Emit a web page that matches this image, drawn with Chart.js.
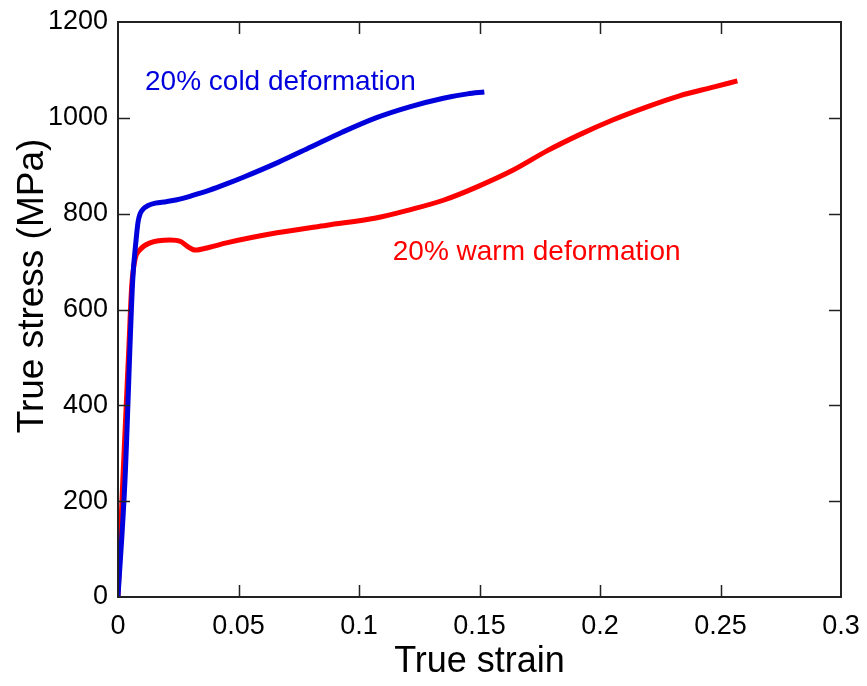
<!DOCTYPE html>
<html>
<head>
<meta charset="utf-8">
<script src="https://cdn.jsdelivr.net/npm/chart.js@4/dist/chart.umd.min.js"></script>
<style>
  html, body { margin:0; padding:0; background:#fff; }
  #wrap { width:867px; height:686px; }
</style>
</head>
<body>
<div id="wrap"><canvas id="stressChart" width="867" height="686"></canvas></div>
<script>
// ===== Data =====
const coldStrain = [0, 0.0029, 0.0061, 0.0075, 0.0083, 0.0092, 0.0105, 0.0125, 0.0155, 0.02, 0.0245, 0.031, 0.038, 0.045, 0.052, 0.066, 0.080, 0.093, 0.107, 0.121, 0.135, 0.145, 0.152];
const coldStress = [0, 244, 661, 745, 782, 800, 810, 817, 822, 825, 829, 838, 849, 862, 876, 906, 939, 970, 1000, 1023, 1041, 1050, 1054];

const warmStrain = [0, 0.002, 0.0045, 0.0057, 0.007, 0.009, 0.0133, 0.0216, 0.026, 0.029, 0.032, 0.038, 0.045, 0.066, 0.0867, 0.107, 0.121, 0.135, 0.149, 0.164, 0.178, 0.192, 0.205, 0.2195, 0.233, 0.247, 0.257];
const warmStress = [0, 244, 520, 650, 703, 724, 739, 745, 742, 731, 724, 730, 739, 760, 776, 791, 808, 828, 856, 891, 931, 966, 995, 1023, 1046, 1064, 1077];

const xTicks = [0, 0.05, 0.1, 0.15, 0.2, 0.25, 0.3];
const yTicks = [0, 200, 400, 600, 800, 1000, 1200];

// annotation labels, placed in data units
const labels = [
  { text: "20% cold deformation", x: 0.0112, y: 1058, color: "#0000dd" },
  { text: "20% warm deformation", x: 0.114, y: 703, color: "#ff0000" }
];

const FONT = "'Liberation Sans', Arial, sans-serif";

function toPoints(xs, ys) {
  return xs.map((x, i) => ({ x: x, y: ys[i] }));
}

// ===== Frame with inward ticks on all sides, labels, y title =====
const framePlugin = {
  id: "frame",
  afterDatasetsDraw(chart) {
    const { ctx, chartArea: a, scales } = chart;
    const len = 12;
    ctx.save();
    ctx.strokeStyle = "#222";
    ctx.lineWidth = 1.5;
    ctx.beginPath();
    xTicks.forEach(v => {
      const px = Math.round(scales.x.getPixelForValue(v)) + 0.5;
      if (v === xTicks[0] || v === xTicks[xTicks.length - 1]) return;
      ctx.moveTo(px, a.bottom); ctx.lineTo(px, a.bottom - len);
      ctx.moveTo(px, a.top); ctx.lineTo(px, a.top + len);
    });
    yTicks.forEach(v => {
      const py = Math.round(scales.y.getPixelForValue(v)) + 0.5;
      if (v === yTicks[0] || v === yTicks[yTicks.length - 1]) return;
      ctx.moveTo(a.left, py); ctx.lineTo(a.left + len, py);
      ctx.moveTo(a.right, py); ctx.lineTo(a.right - len, py);
    });
    ctx.stroke();
    ctx.lineWidth = 2;
    ctx.strokeRect(a.left, a.top, a.right - a.left, a.bottom - a.top);

    ctx.font = "28px " + FONT;
    ctx.textAlign = "left";
    ctx.textBaseline = "alphabetic";
    labels.forEach(l => {
      ctx.fillStyle = l.color;
      ctx.fillText(l.text, scales.x.getPixelForValue(l.x), scales.y.getPixelForValue(l.y));
    });

    // y axis title sits a little above the middle in the original
    ctx.translate(33, 286);
    ctx.rotate(-Math.PI / 2);
    ctx.font = "37px " + FONT;
    ctx.fillStyle = "#000";
    ctx.textAlign = "center";
    ctx.textBaseline = "middle";
    ctx.fillText("True stress (MPa)", 0, 0);
    ctx.restore();
  }
};

// ===== Chart =====
const ctx = document.getElementById("stressChart").getContext("2d");
new Chart(ctx, {
  type: "line",
  data: {
    datasets: [
      {
        label: "20% cold deformation",
        data: toPoints(coldStrain, coldStress),
        borderColor: "#0000dd",
        borderWidth: 5,
        pointRadius: 0,
        cubicInterpolationMode: "monotone",
        fill: false
      },
      {
        label: "20% warm deformation",
        data: toPoints(warmStrain, warmStress),
        borderColor: "#ff0000",
        borderWidth: 5,
        pointRadius: 0,
        cubicInterpolationMode: "monotone",
        fill: false
      }
    ]
  },
  options: {
    responsive: false,
    animation: false,
    layout: { padding: { left: 0, top: 22, right: 26, bottom: 0 } },
    plugins: { legend: { display: false }, tooltip: { enabled: false } },
    scales: {
      x: {
        type: "linear",
        min: 0, max: 0.3,
        afterBuildTicks: s => { s.ticks = xTicks.map(v => ({ value: v })); },
        afterFit: s => { s.height = 89; s.paddingLeft = 0; s.paddingRight = 0; },
        grid: { display: false, drawTicks: false },
        border: { display: false },
        ticks: {
          color: "#000",
          padding: 13,
          maxRotation: 0,
          font: { family: FONT, size: 27 },
          callback: v => String(v)
        },
        title: {
          display: true,
          text: "True strain",
          color: "#000",
          font: { family: FONT, size: 36 },
          padding: { top: 0, bottom: 2 }
        }
      },
      y: {
        type: "linear",
        min: 0, max: 1200,
        afterBuildTicks: s => { s.ticks = yTicks.map(v => ({ value: v })); },
        afterFit: s => { s.width = 118; s.paddingTop = 0; s.paddingBottom = 0; },
        grid: { display: false, drawTicks: false },
        border: { display: false },
        ticks: {
          color: "#000",
          padding: 10,
          font: { family: FONT, size: 27 },
          callback: v => String(v)
        },
        title: { display: false }
      }
    }
  },
  plugins: [framePlugin]
});
</script>
</body>
</html>
